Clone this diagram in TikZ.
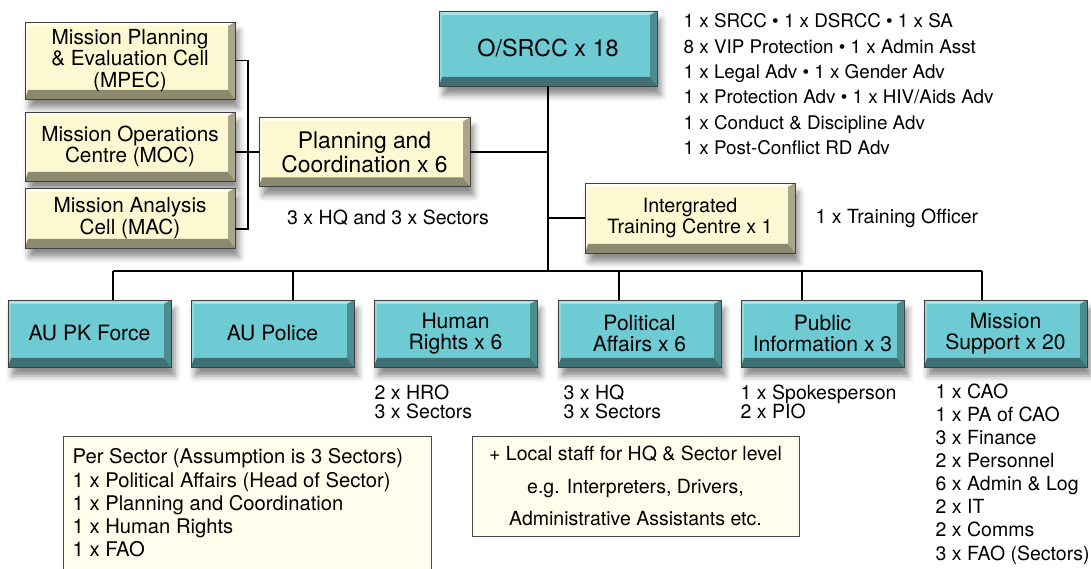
\documentclass[tikz,border=0pt]{standalone}
\usepackage{fontspec}
\setsansfont{TeX Gyre Heros}
\usetikzlibrary{shadows.blur}
\definecolor{tealface}{HTML}{6FCBD3}
\definecolor{tealtop}{HTML}{A9E2E6}
\definecolor{tealleft}{HTML}{8FD8DE}
\definecolor{tealright}{HTML}{4B8C8F}
\definecolor{tealbot}{HTML}{3F7073}
\definecolor{creamface}{HTML}{FCF8D2}
\definecolor{creamtop}{HTML}{FFFDEC}
\definecolor{creamleft}{HTML}{FEFBE2}
\definecolor{creamright}{HTML}{A9A68A}
\definecolor{creambot}{HTML}{8C8A6E}
\definecolor{notefill}{HTML}{FFFDEB}
\begin{document}
\begin{tikzpicture}[thick, font=\sffamily]
\tikzset{%
	bevel/.style n args = {5}{fill=#1, path picture={
		\coordinate (sw) at (path picture bounding box.south west);
		\coordinate (se) at (path picture bounding box.south east);
		\coordinate (nw) at (path picture bounding box.north west);
		\coordinate (ne) at (path picture bounding box.north east);
		\fill[#2] (nw) -- (ne) -- ([shift={(-.14,-.08)}]ne) -- ([shift={(.06,-.08)}]nw) -- cycle;
		\fill[#3] (nw) -- ([shift={(.06,-.08)}]nw) -- ([shift={(.06,.18)}]sw) -- (sw) -- cycle;
		\fill[#4] (ne) -- (se) -- ([shift={(-.14,.18)}]se) -- ([shift={(-.14,-.08)}]ne) -- cycle;
		\fill[#5] (sw) -- (se) -- ([shift={(-.14,.18)}]se) -- ([shift={(.06,.18)}]sw) -- cycle;
	}},
	shady/.style = {blur shadow={shadow xshift=.08cm, shadow yshift=-.18cm, shadow blur radius=.12cm, shadow opacity=45}},
	tealbox/.style = {draw=black!75, line width=.4pt, inner sep=0pt, align=center, minimum width=3.26cm, minimum height=1.34cm, shady, bevel={tealface}{tealtop}{tealleft}{tealright}{tealbot}, font=\sffamily\fontsize{12}{12.2}\selectfont},
	creambox/.style = {draw=black!75, line width=.4pt, inner sep=0pt, align=center, minimum width=4.2cm, shady, bevel={creamface}{creamtop}{creamleft}{creamright}{creambot}, font=\sffamily\fontsize{11.8}{12.2}\selectfont},
	note/.style = {inner sep=0pt, align=left, font=\sffamily\fontsize{11.1}{13.15}\selectfont},
	notebox/.style = {draw=black!70, line width=.5pt, fill=notefill},
	con/.style = {line width=1.1pt, black}
}
\useasboundingbox (0,0) rectangle (21.82,-11.38);
\clip (0,0) rectangle (21.82,-11.38);

% Top level

\draw node at (10.96,-.97) [tealbox, minimum width=4.36cm, minimum height=1.5cm, font=\sffamily\fontsize{13.3}{14}\selectfont] (osrcc) {O/SRCC x 18};
\draw node at (13.66,-.26) [note, anchor=north west, font=\sffamily\fontsize{10.7}{14.45}\selectfont] (staff)
{1 x SRCC • 1 x DSRCC • 1 x SA\\8 x VIP Protection • 1 x Admin Asst\\1 x Legal Adv • 1 x Gender Adv\\1 x Protection Adv • 1 x HIV/Aids Adv\\1 x Conduct \& Discipline Adv\\1 x Post-Conflict RD Adv};

% Planning cells

\draw node at (2.6,-1.21) [creambox, minimum height=1.54cm] (mpec) {Mission Planning\\\& Evaluation Cell\\(MPEC)};
\draw node at (2.6,-2.93) [creambox, minimum height=1.38cm] (moc) {Mission Operations\\Centre (MOC)};
\draw node at (2.6,-4.36) [creambox, minimum height=1.2cm] (mac) {Mission Analysis\\Cell (MAC)};
\draw node at (7.29,-3.04) [creambox, minimum width=4.22cm, minimum height=1.38cm, font=\sffamily\fontsize{13}{11.8}\selectfont] (pc) {Planning and\\Coordination x 6};
\draw node at (7.76,-4.36) [note] (pcnote) {3 x HQ and 3 x Sectors};

\draw node at (13.8,-4.36) [creambox, minimum height=1.4cm, font=\sffamily\fontsize{11.2}{12}\selectfont] (itc) {Intergrated\\Training Centre x 1};
\draw node at (16.3,-4.36) [note, anchor=west] (itcnote) {1 x Training Officer};

% Components

\draw node at (1.79,-6.67) [tealbox] (aupk) {AU PK Force};
\draw node at (5.45,-6.67) [tealbox] (aupol) {AU Police};
\draw node at (9.11,-6.67) [tealbox] (hr) {Human\\Rights x 6};
\draw node at (12.79,-6.67) [tealbox] (pa) {Political\\Affairs x 6};
\draw node at (16.45,-6.67) [tealbox] (pi) {Public\\Information x 3};
\draw node at (20.11,-6.67) [tealbox] (ms) {Mission\\Support x 20};

\draw node at (7.48,-7.68) [note, anchor=north west, font=\sffamily\fontsize{11.1}{10.8}\selectfont] (hrnote) {2 x HRO\\3 x Sectors};
\draw node at (11.26,-7.68) [note, anchor=north west, font=\sffamily\fontsize{11.1}{10.8}\selectfont] (panote) {3 x HQ\\3 x Sectors};
\draw node at (14.8,-7.68) [note, anchor=north west, font=\sffamily\fontsize{11.1}{10.8}\selectfont] (pinote) {1 x Spokesperson\\2 x PIO};
\draw node at (18.7,-7.66) [note, anchor=north west] (msnote)
{1 x CAO\\1 x PA of CAO\\3 x Finance\\2 x Personnel\\6 x Admin \& Log\\2 x IT\\2 x Comms\\3 x FAO (Sectors)};

% Sector staff

\draw[notebox] (1.26,-8.72) rectangle (8.62,-11.7);
\draw node at (1.44,-8.96) [note, anchor=north west, font=\sffamily\fontsize{11.5}{13.25}\selectfont] (sector)
{Per Sector (Assumption is 3 Sectors)\\1 x Political Affairs (Head of Sector)\\1 x Planning and Coordination\\1 x Human Rights\\1 x FAO};
\draw node at (12.71,-9.72) [notebox, minimum width=6.54cm, minimum height=2cm, inner sep=0pt, align=center, font=\sffamily\fontsize{11.1}{18.5}\selectfont] (local)
{+ Local staff for HQ \& Sector level\\e.g. Interpreters, Drivers,\\Administrative Assistants etc.};

% Connectors

\coordinate (busL) at (2.26,-5.42);
\coordinate (busR) at (19.64,-5.42);
\draw[con] (mpec.east) -- ++(.26,0) |- ([yshift=-.22cm]mac.east);
\draw[con] (moc.east |- pc.west) -- (pc.west);
\draw[con] (pc.east) -- (pc.east -| osrcc.south);
\draw[con] (itc.west) -- (itc.west -| osrcc.south);
\draw[con] (osrcc.south) -- (osrcc.south |- busL);
\draw[con] (busL) -- (busR);
\foreach \n/\x in {aupk/2.26, aupol/5.86, pa/12.38, pi/16.04, ms/19.64}
	\draw[con] (\x,-5.42) -- (\x,-5.42 |- \n.north);

\end{tikzpicture}
\end{document}
